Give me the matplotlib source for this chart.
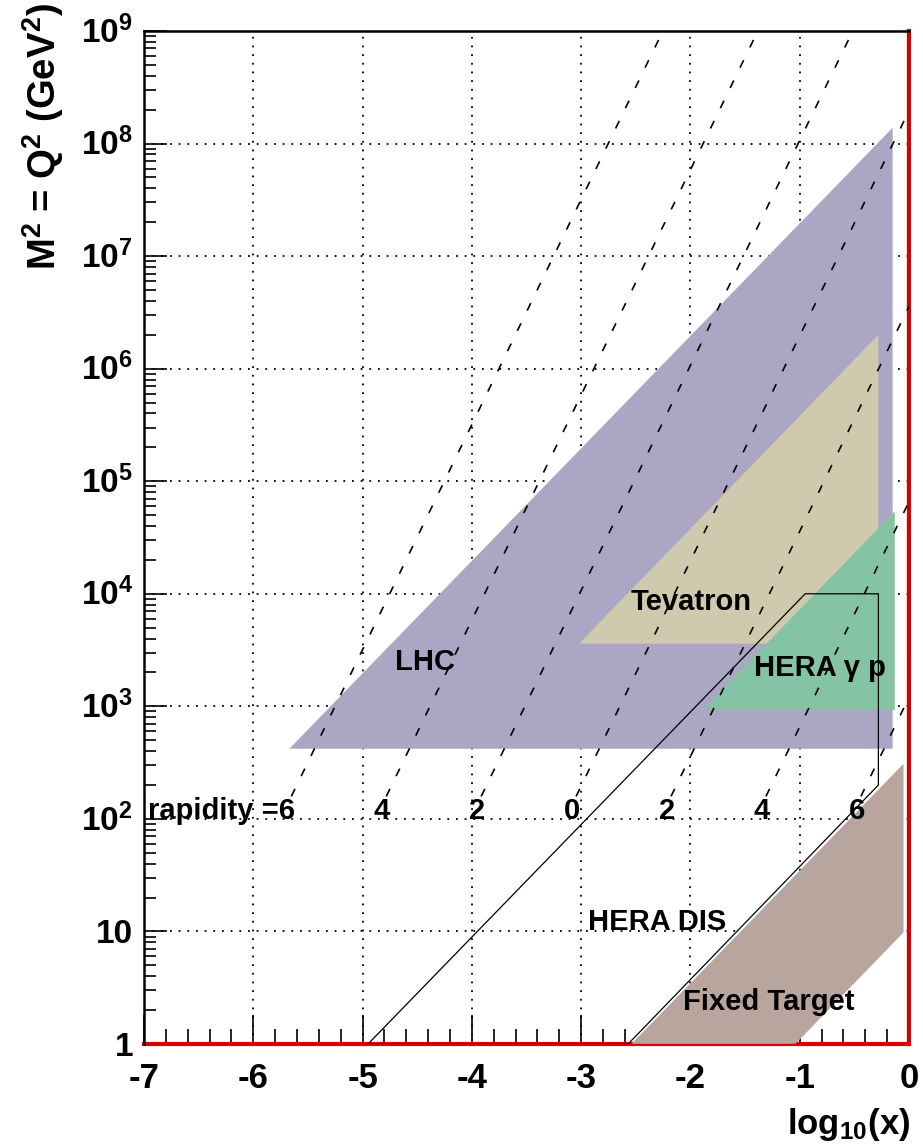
import numpy as np
import matplotlib
matplotlib.use("Agg")
import matplotlib.pyplot as plt
import matplotlib.transforms as mtransforms
from matplotlib.patches import Polygon
from matplotlib.ticker import MultipleLocator, LogLocator, NullFormatter

plt.rcParams['font.family'] = ['Liberation Sans', 'DejaVu Sans']
plt.rcParams['font.weight'] = 'bold'
plt.rcParams['mathtext.fontset'] = 'custom'
plt.rcParams['mathtext.rm'] = 'Liberation Sans:bold'
plt.rcParams['mathtext.bf'] = 'Liberation Sans:bold'
plt.rcParams['mathtext.it'] = 'Liberation Sans:bold:italic'

# kinematic regions: log10(x) vs M^2 (GeV^2)
lhc_x = [-5.67, -0.15, -0.15]
lhc_m2 = [420, 1.38e8, 420]
tev_x = [-3.02, -0.28, -0.28]
tev_m2 = [3.6e3, 2.0e6, 3.6e3]
hera_gp_x = [-1.89, -0.13, -0.13]
hera_gp_m2 = [930, 5.4e4, 930]
fixed_x = [-2.54, -0.05, -0.05, -1.04]
fixed_m2 = [1, 309, 9.8, 1]
hera_dis_x = [-4.95, -0.95, -0.28, -0.28, -2.57]
hera_dis_m2 = [1, 1e4, 1e4, 200, 1]

# rapidity lines at LHC energy
s_lhc = 1.96e8
rapidity = [-6, -4, -2, 0, 2, 4, 6]
rap_text = ['rapidity =6', '4', '2', '0', '2', '4', '6']

# region names and where they sit
region_names = ['LHC', 'Tevatron', 'HERA \u03b3 p', 'HERA DIS', 'Fixed Target']
region_lx = [-4.43, -1.995, -0.815, -2.307, -1.28]
region_lm2 = [2.1e3, 7.15e3, 1.85e3, 10.3, 2.0]

xticks = [-7, -6, -5, -4, -3, -2, -1, 0]
xtick_labels = ['-7', '-6', '-5', '-4', '-3', '-2', '-1', '0']
yticks = [1, 10, 1e2, 1e3, 1e4, 1e5, 1e6, 1e7, 1e8, 1e9]
ytick_labels = ['1', '10'] + [r'$\mathbf{10^{%d}}$' % k for k in range(2, 10)]

fig = plt.figure(figsize=(9.23, 11.45), dpi=100)
ax = fig.add_axes([144 / 923, 1 - 1044 / 1145, (909 - 144) / 923, (1044 - 31) / 1145])
ax.set_yscale('log')
ax.set_xlim(-7, 0)
ax.set_ylim(1, 1e9)
ax.set_axisbelow(True)

ax.grid(True, which='major', color='k', lw=1.3, ls=(0, (1, 3.8)))

ax.add_patch(Polygon(list(zip(lhc_x, lhc_m2)), closed=True, fc='#aaa6c3', ec='none', zorder=1))
ax.add_patch(Polygon(list(zip(tev_x, tev_m2)), closed=True, fc='#cfcaad', ec='none', zorder=1.1))
ax.add_patch(Polygon(list(zip(hera_gp_x, hera_gp_m2)), closed=True, fc='#84c3a3', ec='none', zorder=1.2))
ax.add_patch(Polygon(list(zip(fixed_x, fixed_m2)), closed=True, fc='#b8a59d', ec='none', zorder=1.3))
ax.add_patch(Polygon(list(zip(hera_dis_x, hera_dis_m2)), closed=True, fc='none', ec='k', lw=0.9, zorder=3))

# dashed lines of constant rapidity: x = M/sqrt(s) * exp(y)
m2_ends = np.array([10 ** 2.2, 1e9])
for yr, lab in zip(rapidity, rap_text):
    lx = 0.5 * np.log10(m2_ends) - 0.5 * np.log10(s_lhc) + yr * np.log10(np.e)
    ax.plot(lx, m2_ends, color='k', lw=1.2, ls=(0, (5, 8.5)), zorder=3)
    x100 = 0.5 * 2 - 0.5 * np.log10(s_lhc) + yr * np.log10(np.e) + 0.06
    if lab.startswith('rapidity'):
        ax.text(x100 + 0.07, 100, lab, ha='right', va='baseline', fontsize=21, zorder=4)
    else:
        ax.text(x100, 100, lab, ha='center', va='baseline', fontsize=21, zorder=4)

for name, tx, ty in zip(region_names, region_lx, region_lm2):
    ax.text(tx, ty, name, ha='center', va='baseline', fontsize=21, zorder=4)

# axes frame: red bottom/right edge with a thin black line inside
for side in ['left', 'top']:
    ax.spines[side].set_linewidth(1.8)
    ax.spines[side].set_color('k')
for side in ['bottom', 'right']:
    ax.spines[side].set_linewidth(3)
    ax.spines[side].set_color('#e00000')
    ax.spines[side].set_zorder(0.8)
ax.axhline(1, color='k', lw=0.9, zorder=5)
ax.axvline(0, color='k', lw=0.9, zorder=5)

ax.set_xticks(xticks)
ax.set_xticklabels(xtick_labels, fontsize=25, fontweight='bold')
ax.xaxis.set_minor_locator(MultipleLocator(0.2))
ax.set_yticks(yticks)
ax.yaxis.set_minor_locator(LogLocator(base=10, subs=np.arange(2, 10), numticks=20))
ax.yaxis.set_minor_formatter(NullFormatter())
ax.tick_params(axis='x', which='major', direction='in', length=21, width=1.2, pad=13, top=False)
ax.tick_params(axis='x', which='minor', direction='in', length=11, width=1.2, top=False)
ax.tick_params(axis='y', which='major', direction='in', length=16.5, width=1.2, labelleft=False, right=False)
ax.tick_params(axis='y', which='minor', direction='in', length=8.5, width=1.2, right=False)

ylab_trans = mtransforms.offset_copy(ax.get_yaxis_transform(), fig=fig, x=-8, y=-8.5, units='points')
for yv, lab in zip(yticks, ytick_labels):
    ax.text(0, yv, lab, transform=ylab_trans, ha='right', va='baseline', fontsize=24, clip_on=False)

fig.text(43 / 923, 1 - 3 / 1145, 'M$^{2}$ = Q$^{2}$ (GeV$^{2}$)', rotation=90,
         ha='center', va='top', fontsize=27.5)
fig.text(910 / 923, 1 - 1106 / 1145, r'$\mathbf{log_{10}(x)}$', ha='right', va='top', fontsize=25)

fig.savefig('out.png', dpi=100, facecolor='white')
